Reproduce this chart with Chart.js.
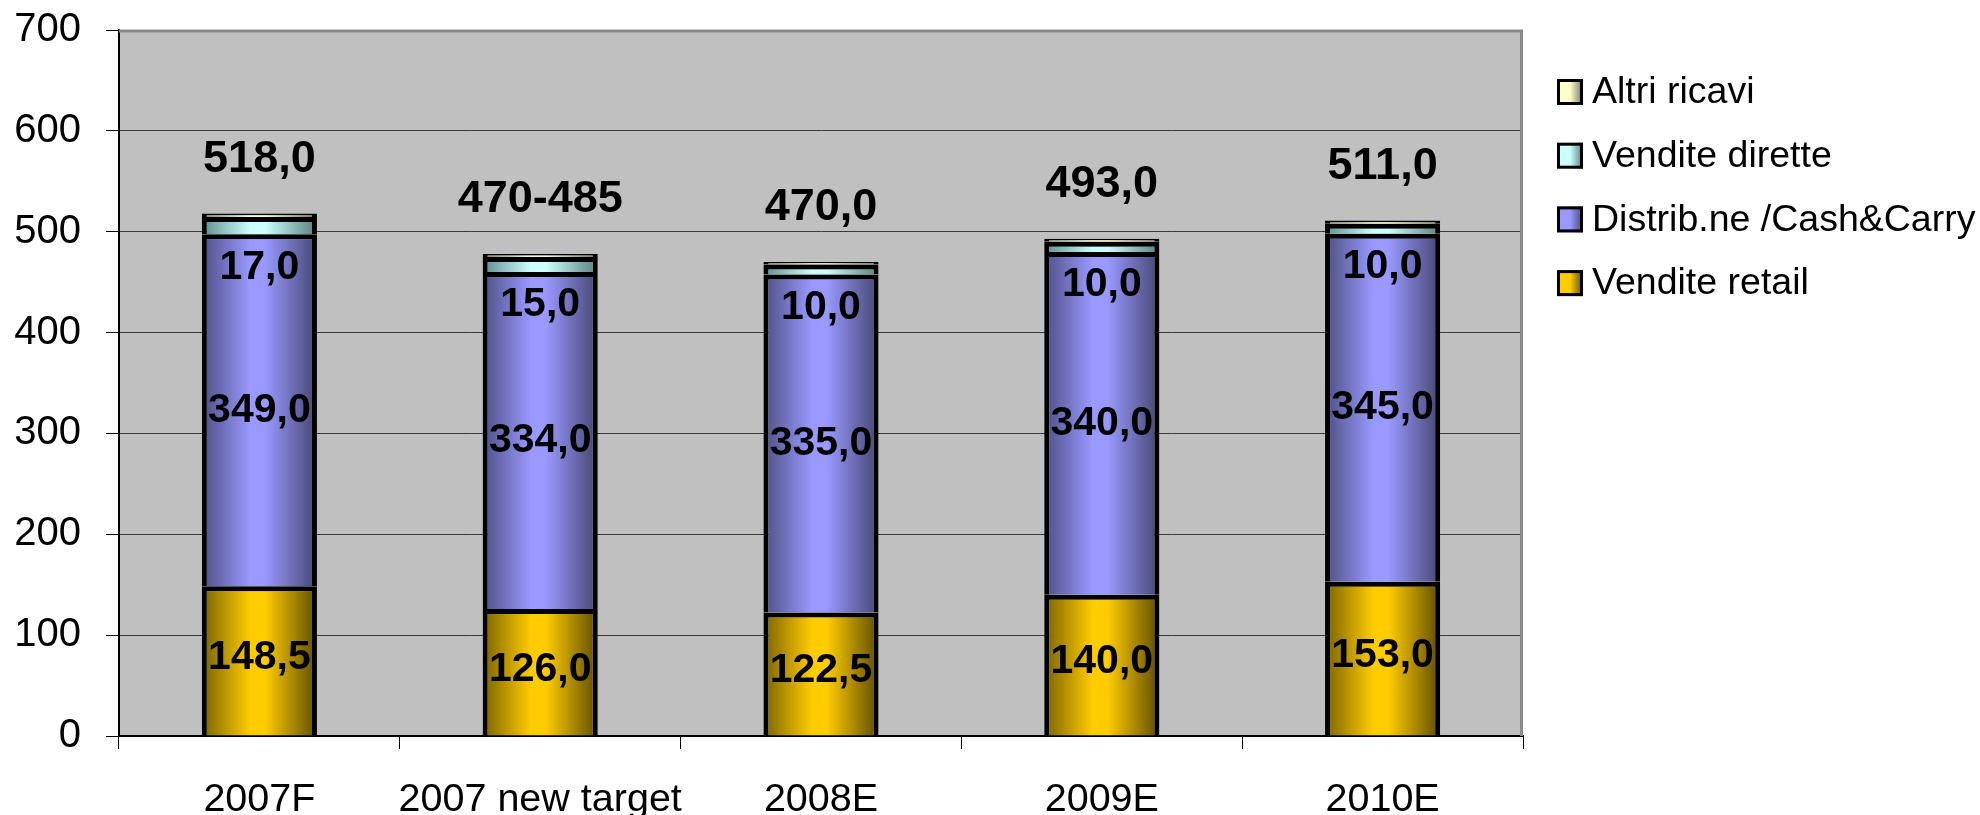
<!DOCTYPE html>
<html>
<head>
<meta charset="utf-8">
<script src="https://cdn.jsdelivr.net/npm/chart.js@4.4.1/dist/chart.umd.min.js"></script>
<style>
  html, body { margin: 0; background: #fff; }
  canvas { display: block; }
</style>
</head>
<body>
<canvas id="chart" width="1980" height="815"></canvas>
<script>
const categories = ['2007F', '2007 new target', '2008E', '2009E', '2010E'];
const venditeRetail = [148.5, 126.0, 122.5, 140.0, 153.0];
const distribCashCarry = [349.0, 334.0, 335.0, 340.0, 345.0];
const venditeDirette = [17.0, 15.0, 10.0, 10.0, 10.0];
const altriRicavi = [3.5, 3.0, 2.5, 3.0, 3.0];
const totalLabels = ['518,0', '470-485', '470,0', '493,0', '511,0'];
const yMin = 0, yMax = 700, yStep = 100;

const FONT = '"Liberation Sans", Arial, sans-serif';
const BAR_PCT = 0.41;

// gradient stops: dark edge, light centre, darker right edge
const shades = {
  retail: ['#7a6300', '#ffcc00', '#ffcc00', '#5e4c00'],
  distrib: ['#4f4f85', '#9999ff', '#9999ff', '#464672'],
  dirette: ['#5f8c8c', '#ccffff', '#ccffff', '#587e7e'],
  altri: ['#808066', '#ffffcc', '#ffffcc', '#74745c'],
};

const fmt = (v) => v.toFixed(1).replace('.', ',');

function barFill(stops) {
  return (ctx) => {
    const chart = ctx.chart;
    const xs = chart.scales.x;
    if (!xs || !chart.chartArea || ctx.type !== 'data') return stops[1];
    const c = xs.getPixelForValue(ctx.dataIndex);
    const half = (xs.width / categories.length) * BAR_PCT / 2;
    const g = chart.ctx.createLinearGradient(c - half, 0, c + half, 0);
    g.addColorStop(0, stops[0]);
    g.addColorStop(0.42, stops[1]);
    g.addColorStop(0.55, stops[2]);
    g.addColorStop(1, stops[3]);
    return g;
  };
}

// grey plot area + its border
const plotArea = {
  id: 'plotArea',
  beforeDraw(chart) {
    const { ctx, chartArea: a } = chart;
    ctx.save();
    ctx.fillStyle = '#c0c0c0';
    ctx.fillRect(a.left, a.top, a.width, a.height);
    ctx.restore();
  },
  beforeDatasetsDraw(chart) {
    const { ctx, chartArea: a } = chart;
    ctx.save();
    ctx.strokeStyle = '#8a8a8a';
    ctx.lineWidth = 3;
    ctx.beginPath();
    ctx.moveTo(a.left, a.top + 1);
    ctx.lineTo(a.right - 1.5, a.top + 1);
    ctx.lineTo(a.right - 1.5, a.bottom);
    ctx.stroke();
    ctx.restore();
  },
};

// value labels inside bars and totals above
const valueLabels = {
  id: 'valueLabels',
  afterDatasetsDraw(chart) {
    const ctx = chart.ctx;
    const retail = chart.getDatasetMeta(0).data;
    const distrib = chart.getDatasetMeta(1).data;
    const altri = chart.getDatasetMeta(3).data;
    ctx.save();
    ctx.fillStyle = '#000';
    ctx.textAlign = 'center';
    ctx.textBaseline = 'middle';
    ctx.font = 'bold 41px ' + FONT;
    categories.forEach((_, i) => {
      const r = retail[i].getProps(['x', 'y', 'base'], true);
      ctx.fillText(fmt(venditeRetail[i]), r.x, (r.y + r.base) / 2 - 3);
      const d = distrib[i].getProps(['x', 'y', 'base'], true);
      ctx.fillText(fmt(distribCashCarry[i]), d.x, (d.y + d.base) / 2);
      ctx.fillText(fmt(venditeDirette[i]), d.x, d.y + 33);
    });
    ctx.font = 'bold 45px ' + FONT;
    ctx.textBaseline = 'alphabetic';
    categories.forEach((_, i) => {
      const t = altri[i].getProps(['x', 'y'], true);
      ctx.fillText(totalLabels[i], t.x, t.y - 42);
    });
    ctx.restore();
  },
};

// legend on the right, top item = top of stack
const sideLegend = {
  id: 'sideLegend',
  afterDraw(chart) {
    const ctx = chart.ctx;
    const items = chart.data.datasets.slice().reverse();
    const boxX = 1557, textX = 1592, size = 26;
    ctx.save();
    ctx.font = '37.5px ' + FONT;
    ctx.textBaseline = 'middle';
    ctx.textAlign = 'left';
    items.forEach((ds, i) => {
      const cy = 92 + i * 63.7;
      const g = ctx.createLinearGradient(boxX, 0, boxX + size, 0);
      g.addColorStop(0, ds.legendStops[2]);
      g.addColorStop(0.5, ds.legendStops[1]);
      g.addColorStop(1, ds.legendStops[3]);
      ctx.fillStyle = g;
      ctx.fillRect(boxX, cy - size / 2, size, size);
      ctx.strokeStyle = '#000';
      ctx.lineWidth = 3;
      ctx.strokeRect(boxX + 1.5, cy - size / 2 + 1.5, size - 3, size - 3);
      ctx.fillStyle = '#000';
      ctx.fillText(ds.label, textX, cy + 1);
    });
    ctx.restore();
  },
};

function dataset(label, data, stops) {
  return {
    label,
    data,
    legendStops: stops,
    backgroundColor: barFill(stops),
    borderColor: '#000',
    borderWidth: 5,
    barPercentage: BAR_PCT,
    categoryPercentage: 1,
  };
}

new Chart(document.getElementById('chart'), {
  type: 'bar',
  data: {
    labels: categories,
    datasets: [
      dataset('Vendite retail', venditeRetail, shades.retail),
      dataset('Distrib.ne /Cash&Carry', distribCashCarry, shades.distrib),
      dataset('Vendite dirette', venditeDirette, shades.dirette),
      dataset('Altri ricavi', altriRicavi, shades.altri),
    ],
  },
  options: {
    responsive: false,
    animation: false,
    devicePixelRatio: 1,
    layout: { padding: { top: 30, right: 457, left: 0, bottom: 0 } },
    plugins: {
      legend: { display: false },
      tooltip: { enabled: false },
    },
    scales: {
      x: {
        stacked: true,
        afterFit: (s) => { s.height = 79; },
        grid: { drawOnChartArea: false, drawTicks: true, tickLength: 13, tickColor: '#000', offset: true },
        border: { color: '#000', width: 2 },
        ticks: { color: '#000', font: { family: FONT, size: 39.5 }, padding: 27, maxRotation: 0, autoSkip: false },
      },
      y: {
        stacked: true,
        min: yMin,
        max: yMax,
        afterFit: (s) => { s.width = 119; s.paddingTop = 0; s.paddingBottom = 0; },
        grid: { color: '#3a3a3a', lineWidth: 1, tickLength: 13, tickColor: '#000' },
        border: { color: '#000', width: 2 },
        ticks: { stepSize: yStep, color: '#000', font: { family: FONT, size: 40 }, padding: 25 },
      },
    },
  },
  plugins: [plotArea, valueLabels, sideLegend],
});
</script>
</body>
</html>
